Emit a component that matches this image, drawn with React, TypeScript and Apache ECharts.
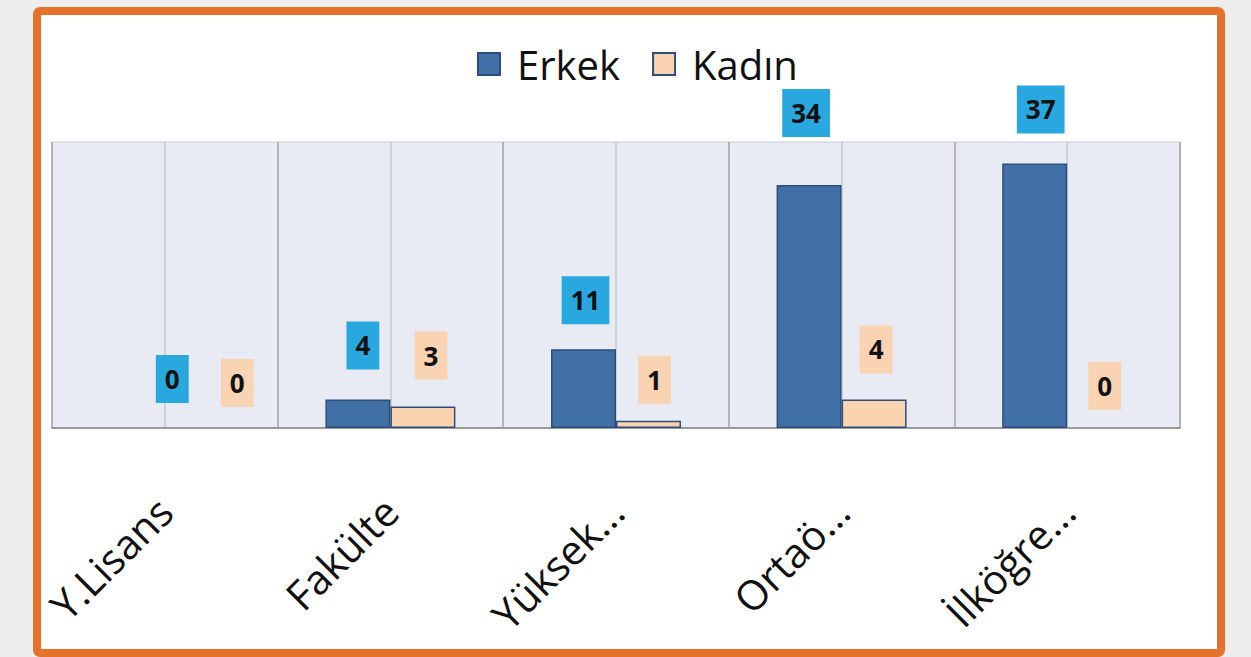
import React, { useEffect, useRef } from "react";
import * as echarts from "echarts";

const categories = ["Y.Lisans", "Fakülte", "Yüksek...", "Ortaö...", "İlköğre..."];
const seriesNames = ["Erkek", "Kadın"];
const erkek = [0, 4, 11, 34, 37];
const kadin = [0, 3, 1, 4, 0];

// label placement tweaks (dx, gap above bar) in pixels
const erkekLabelShift = [[40, 25], [5, 30], [2, 25], [-3, 48], [6, 30]];
const kadinLabelShift = [[40, 21], [8, 27], [6, 17], [2, 26], [5, 18]];

const FONT = "'Open Sans', 'Noto Sans', sans-serif";

function withLabels(values: number[], shifts: number[][], bg: string) {
  return values.map((v, i) => ({
    value: v,
    itemStyle: v === 0 ? { borderWidth: 0 } : undefined,
    label: {
      show: true,
      position: "top",
      distance: shifts[i][1],
      offset: [shifts[i][0], 0],
      backgroundColor: bg,
      padding: [11, 9],
      color: "#111",
      fontWeight: "bold",
      fontSize: 26,
      lineHeight: 26,
      fontFamily: FONT,
    },
  }));
}

export default function App() {
  const ref = useRef<HTMLDivElement>(null);
  useEffect(() => {
    if (!ref.current) return;
    const chart = echarts.init(ref.current, null, { renderer: "svg" });
    chart.setOption({
      animation: false,
      backgroundColor: "#eeeeee",
      graphic: [
        {
          type: "rect",
          z: -10,
          shape: { x: 37, y: 11, width: 1184, height: 642, r: 3 },
          style: { fill: "#ffffff", stroke: "#e4722a", lineWidth: 8 },
        },
      ],
      legend: {
        data: seriesNames,
        left: 472,
        top: 39,
        icon: "rect",
        itemWidth: 22,
        itemHeight: 22,
        itemGap: 32,
        textStyle: { fontSize: 40, color: "#111", fontFamily: FONT, padding: [0, 0, 0, 12] },
      },
      grid: {
        left: 52,
        right: 71,
        top: 142,
        bottom: 229,
        show: true,
        backgroundColor: "#e9ebf4",
        borderColor: "#c8cad2",
        borderWidth: 1,
      },
      xAxis: [
        {
          type: "category",
          data: categories,
          axisLine: { lineStyle: { color: "#9a9a9a", width: 2 } },
          axisTick: { show: false },
          splitLine: { show: false },
          axisLabel: {
            rotate: 45,
            margin: 76,
            fontSize: 41,
            color: "#111",
            fontFamily: FONT,
            interval: 0,
          },
        },
        {
          type: "value",
          min: 0,
          max: 10,
          interval: 1,
          position: "top",
          axisLine: { show: false },
          axisTick: { show: false },
          axisLabel: { show: false },
          splitLine: {
            show: true,
            lineStyle: { color: ["#a2a2a6", "#c6c8d0"], width: 1.5 },
          },
        },
      ],
      yAxis: {
        type: "value",
        min: 0,
        max: 40,
        show: false,
        splitLine: { show: false },
      },
      series: [
        {
          name: seriesNames[0],
          type: "bar",
          xAxisIndex: 0,
          barWidth: 65,
          barGap: "0%",
          itemStyle: { color: "#4170a7", borderColor: "#2d4e78", borderWidth: 1.5 },
          data: withLabels(erkek, erkekLabelShift, "#29a8df"),
        },
        {
          name: seriesNames[1],
          type: "bar",
          xAxisIndex: 0,
          barWidth: 65,
          barGap: "0%",
          itemStyle: { color: "#fad3b0", borderColor: "#2d4e78", borderWidth: 1.5 },
          data: withLabels(kadin, kadinLabelShift, "#fad3b2"),
        },
      ],
    });
    return () => chart.dispose();
  }, []);
  return (
    <div
      ref={ref}
      style={{ position: "fixed", left: 0, top: 0, width: 1251, height: 657 }}
    />
  );
}
